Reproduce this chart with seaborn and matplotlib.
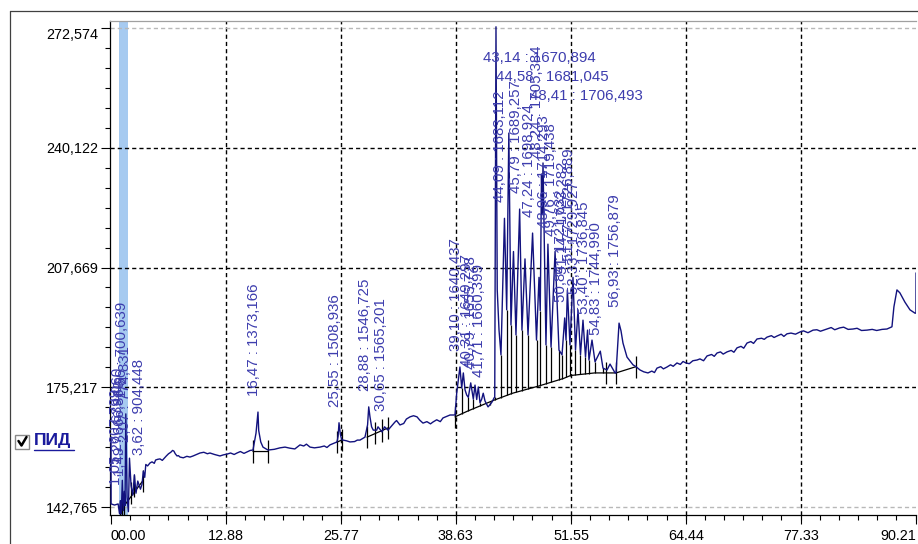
import matplotlib
matplotlib.use("Agg")
import numpy as np
import pandas as pd
import matplotlib.pyplot as plt
from matplotlib.ticker import AutoMinorLocator, FixedLocator
from matplotlib.patches import Rectangle
from matplotlib.lines import Line2D
import seaborn as sns

# Detector signal between the identified peaks: time (min) and response
trace_t = [0.00, 0.01, 0.40, 0.80, 0.95, 1.15, 1.38, 1.57, 1.80, 1.95, 2.25, 2.45,
           2.62, 2.80, 3.00, 3.30, 3.48, 3.78, 3.90, 4.37, 5.00, 5.49, 6.20, 6.70,
           7.05, 7.40, 7.73, 8.85, 9.50, 9.97, 11.09, 11.60, 12.21, 13.00, 14.12,
           15.24, 15.91, 16.25, 16.55, 16.78, 17.03, 17.59, 18.94, 20.06, 21.18,
           22.30, 23.42, 24.54, 25.33, 25.45, 25.70, 25.85, 26.00, 26.78, 27.90,
           28.46, 28.75, 29.02, 29.20, 29.39, 29.77, 29.92, 30.37, 31.04, 31.82,
           32.38, 33.51, 34.29, 34.96, 36.08, 37.20, 37.99, 38.55, 38.74, 39.30,
           39.48, 39.67, 39.86, 40.04, 40.60, 40.98, 41.16, 41.35, 41.54, 41.91,
           42.25, 42.47, 42.69, 42.92, 43.00, 43.28, 43.48, 43.70, 44.34, 44.82,
           45.10, 45.38, 46.05, 46.39, 46.73, 47.68, 47.96, 48.10, 48.32, 48.74,
           49.31, 50.20, 50.54, 50.99, 51.43, 52.05, 52.61, 52.89, 53.17, 53.56,
           53.90, 54.24, 55.13, 55.47, 55.58, 55.92, 56.48, 56.59, 57.15, 57.37,
           57.82, 58.49, 58.83, 59.28, 60.17, 61.18, 62.30, 63.42, 64.43, 65.67,
           66.79, 67.91, 69.03, 70.15, 71.27, 72.39, 73.51, 74.63, 75.75, 77.21,
           78.67, 80.23, 81.65, 83.14, 84.71, 86.95, 87.51, 87.73, 88.07, 88.40,
           88.96, 89.53, 90.09, 90.20, 90.21]
trace_v = [161.2, 143.6, 143.3, 143.6, 141.0, 140.9, 141.8, 143.2, 145.5, 141.5, 148.5, 146.0,
           151.5, 146.5, 149.8, 147.6, 149.0, 150.8, 154.3, 154.7, 155.5, 155.8, 156.6, 157.6,
           157.9, 156.6, 156.3, 156.3, 156.9, 157.4, 157.4, 157.0, 156.6, 157.1, 157.4,
           157.7, 158.2, 162.8, 163.5, 160.4, 159.0, 158.2, 158.8, 158.7, 159.6,
           159.0, 159.0, 159.6, 160.4, 162.0, 162.5, 161.0, 160.9, 160.4, 160.9,
           161.7, 165.0, 167.2, 164.5, 163.6, 163.6, 164.5, 163.1, 163.6, 165.8,
           165.0, 167.2, 167.2, 165.5, 165.8, 166.9, 167.7, 167.7, 173.7, 175.0,
           179.1, 174.5, 173.1, 172.5, 172.0, 171.9, 175.3, 171.0, 172.0, 171.5,
           169.9, 170.5, 171.2, 172.3, 172.6, 201.6, 190.7, 184.0, 196.2, 192.1,
           212.0, 189.4, 190.7, 210.0, 189.4, 188.0, 205.0, 196.0, 222.0, 186.7,
           186.1, 185.3, 184.0, 188.0, 186.7, 185.3, 184.0, 193.4, 183.4, 182.6,
           188.0, 182.1, 180.4, 180.0, 179.9, 181.5, 179.1, 179.1, 190.5, 187.2,
           183.4, 181.3, 180.8, 179.9, 179.1, 180.4, 180.7, 181.8, 181.8, 182.6,
           183.7, 184.5, 184.8, 185.9, 187.2, 188.3, 188.8, 189.1, 189.7, 190.2,
           190.7, 191.0, 191.3, 191.0, 190.7, 191.0, 191.6, 197.0, 201.6, 200.8,
           198.3, 196.2, 195.3, 195.3, 206.2]

# Small detector ripple along the baseline
ripple_t = [4.10, 4.60, 4.85, 5.25, 5.75, 6.45, 6.90, 7.20, 7.55, 8.10, 8.50, 9.20,
            10.40, 10.80, 12.60, 13.40, 13.80, 14.50, 14.90, 15.60,
            18.30, 19.50, 20.60, 21.60, 21.90, 22.80, 23.90, 24.20, 26.40, 27.30,
            27.60, 31.40, 32.00, 32.80, 33.10, 33.90, 34.60, 35.40, 35.80, 36.50,
            36.90, 37.60,
            59.70, 60.60, 60.90, 61.60, 61.90, 62.70, 63.00, 63.80, 64.10, 64.80,
            65.20, 66.00, 66.40, 67.30, 67.60, 68.30, 68.60, 69.50, 69.80, 70.60,
            70.90, 71.70, 72.00, 72.90, 73.20, 74.00, 74.30, 75.10, 75.40, 76.20,
            76.70, 77.60, 78.10, 79.10, 79.50, 80.70, 81.10, 82.10, 82.60, 83.60,
            84.10, 85.30, 85.80, 86.40]
ripple_v = [153.9, 155.0, 154.6, 155.7, 155.4, 157.2, 158.1, 157.2, 156.7, 156.1, 156.5, 156.6,
            157.6, 157.2, 156.9, 157.4, 157.0, 157.8, 157.3, 158.1,
            158.4, 159.0, 158.5, 159.3, 159.8, 158.8, 159.3, 158.9, 160.7, 160.5,
            160.9, 164.6, 166.2, 165.4, 166.6, 167.5, 166.3, 165.9, 165.3, 166.4,
            165.9, 167.3,
            179.4, 179.6, 179.2, 180.8, 180.2, 181.3, 180.9, 181.4, 182.2, 181.6,
            182.4, 182.9, 182.4, 184.1, 183.6, 184.8, 184.2, 185.2, 184.7, 186.3,
            185.8, 187.6, 187.1, 188.5, 188.2, 189.2, 188.7, 189.6, 189.0, 189.9,
            189.6, 190.5, 190.0, 190.8, 190.4, 191.4, 190.8, 191.5, 190.9, 191.2,
            190.6, 190.9, 190.6, 190.9]

# Identified peaks: retention time, apex height, retention index
peak_rt = [1.05, 1.27, 1.49, 1.66, 2.07, 3.62, 16.47, 25.55, 28.88, 30.65,
           39.10, 40.31, 40.79, 41.71, 43.14, 44.09, 44.58, 45.79, 47.24, 48.24,
           48.41, 48.96, 49.76, 50.84, 51.14, 51.77, 52.33, 53.40, 54.83, 56.93]
peak_top = [144.5, 150.0, 147.0, 168.0, 156.0, 152.5, 168.5, 165.6, 169.9, 164.5,
            180.7, 176.4, 175.8, 173.6, 272.9, 221.0, 244.1, 223.5, 217.0, 233.0,
            236.0, 214.0, 212.0, 194.0, 201.6, 205.0, 196.2, 190.7, 185.0, 192.6]
peak_ri = ["607,739", "639,060", "666,860", "700,639", "774,831", "904,448",
           "1373,166", "1508,936", "1546,725", "1565,201",
           "1640,437", "1649,297", "1655,728", "1660,399", "1670,894", "1683,112",
           "1681,045", "1689,257", "1698,924", "1705,384", "1706,493", "1714,293",
           "1719,438", "1721,632", "1723,282", "1726,889", "1729,927", "1736,845",
           "1744,990", "1756,879"]
flat_label_rt = [43.14, 44.58, 48.41]

# Integration results: drop lines, baselines and boundary marks
drop_t = [39.30, 40.04, 40.60, 41.35, 42.47, 43.00, 43.70, 44.34, 44.82, 45.38,
          46.05, 46.73, 47.68, 48.10, 48.74, 49.31, 50.20, 50.54, 50.99, 51.43,
          52.05, 52.61, 53.17, 53.56, 54.24, 55.13]
base_main_t = [38.55, 40.00, 42.90, 45.00, 48.00, 50.70, 51.50, 54.20, 56.59, 58.83]
base_main_v = [167.2, 168.8, 171.7, 173.6, 175.6, 177.6, 178.4, 179.1, 179.1, 180.8]
base_seg_t = [0.98, 3.55, np.nan, 15.91, 17.59, np.nan, 25.28, 25.85, np.nan, 28.69, 31.04]
base_seg_v = [141.5, 149.8, np.nan, 157.8, 157.8, np.nan, 160.3, 160.9, np.nan, 161.7, 164.2]
mark_t = [0.98, 1.20, 1.45, 2.20, 2.55, 3.55, 15.91, 17.59, 25.28, 25.85,
          28.69, 29.58, 30.37, 31.04, 38.55, 55.47, 56.59, 58.83]
mark_v = [141.5, 141.8, 143.5, 146.5, 148.5, 149.8, 157.8, 157.8, 160.3, 160.9,
          161.7, 162.8, 163.5, 164.2, 167.2, 179.1, 179.1, 180.8]

x_ticks = [0.0, 12.88, 25.77, 38.63, 51.55, 64.44, 77.33, 90.21]
x_tick_labels = ["00.00", "12.88", "25.77", "38.63", "51.55", "64.44", "77.33", "90.21"]
y_ticks = [142.765, 175.217, 207.669, 240.122, 272.574]
y_tick_labels = ["142,765", "175,217", "207,669", "240,122", "272,574"]

# layout
W, H = 918, 544
XMIN, XMAX = -0.112, 90.25
YMIN, YMAX = 140.60, 274.47
SEL_BAND = (0.90, 1.90)
FLAT_LABEL_Y = [264.45, 259.3, 254.15]
TRACE = "#12127e"
LABEL = "#3d3dae"
DASH = (3, 2.2)

sns.set_theme(style="ticks")
plt.rcParams["font.family"] = ["Liberation Sans", "DejaVu Sans"]

fig = plt.figure(figsize=(W / 100, H / 100), dpi=100)
fig.patch.set_facecolor("white")
ax = fig.add_axes([110 / W, 1 - 515 / H, (916.4 - 110) / W, (515 - 21) / H])
ax.set_facecolor("white")

# selection band
ax.axvspan(*SEL_BAND, color="#a6caf0", lw=0, zorder=0)

# grid
for t in x_ticks[1:-1]:
    ax.axvline(t, color="black", lw=1.0, dashes=DASH, zorder=1)
for v in y_ticks[1:-1]:
    ax.axhline(v, color="black", lw=1.0, dashes=DASH, zorder=1)
for v in (y_ticks[0], y_ticks[-1]):
    ax.axhline(v, color="#b8b8b8", lw=1.0, dashes=DASH, zorder=1)

# chromatogram
sig = pd.DataFrame({"t": trace_t + ripple_t + peak_rt,
                    "v": trace_v + ripple_v + peak_top}).sort_values("t")
sns.lineplot(data=sig, x="t", y="v", ax=ax, estimator=None, sort=False,
             color=TRACE, lw=1.0, zorder=4)

# integration marks
drop_top = np.interp(drop_t, sig["t"], sig["v"])
drop_bot = np.interp(drop_t, base_main_t, base_main_v)
ax.vlines(drop_t, drop_bot, drop_top, color="black", lw=0.9, zorder=3)
ax.plot(base_main_t, base_main_v, color="black", lw=0.9, zorder=3)
ax.plot(base_seg_t, base_seg_v, color="black", lw=0.9, zorder=3)
mv = np.array(mark_v)
ax.vlines(mark_t, mv - 3.0, mv + 3.0, color="black", lw=0.9, zorder=3)

# peak labels
flat_i = 0
for rt, top, ri in zip(peak_rt, peak_top, peak_ri):
    txt = f"{rt:.2f}".replace(".", ",") + " : " + ri
    if rt in flat_label_rt:
        ax.text(rt - 1.46, FLAT_LABEL_Y[flat_i], txt, ha="left", va="center",
                color=LABEL, fontsize=10.8, zorder=5)
        flat_i += 1
    else:
        ax.text(rt, top + 4.3, txt, rotation=90, rotation_mode="anchor",
                ha="left", va="baseline", color=LABEL, fontsize=10.8, zorder=5)

# axes
ax.set_xlim(XMIN, XMAX)
ax.set_ylim(YMIN, YMAX)
ax.xaxis.set_major_locator(FixedLocator(x_ticks))
ax.set_xticklabels(x_tick_labels)
ax.yaxis.set_major_locator(FixedLocator(y_ticks))
ax.set_yticklabels(y_tick_labels)
ax.xaxis.set_minor_locator(AutoMinorLocator(6))
ax.yaxis.set_minor_locator(AutoMinorLocator(6))
ax.tick_params(which="both", direction="out", bottom=True, left=True, top=False,
               right=False, colors="black", width=0.8)
ax.tick_params(which="major", length=6.8, labelsize=10.4)
ax.tick_params(which="minor", length=3.6)
ax.tick_params(axis="x", pad=3.0)
ax.tick_params(axis="y", pad=2.0)
xl = ax.get_xticklabels()
xl[0].set_ha("left")
xl[-1].set_ha("right")
ax.get_yticklabels()[-1].set_va("top")
ax.set_xlabel("")
ax.set_ylabel("")
for side in ("left", "bottom"):
    ax.spines[side].set_color("black")
    ax.spines[side].set_linewidth(0.9)
ax.spines["top"].set_color("#a0a0a0")
ax.spines["top"].set_linewidth(0.9)
ax.spines["right"].set_visible(False)

# panel frame
fig.add_artist(Line2D([9.5 / W, 9.5 / W], [0, 1 - 10.5 / H], transform=fig.transFigure,
                      color="#404040", lw=0.9))
fig.add_artist(Line2D([9.5 / W, 1], [1 - 10.5 / H, 1 - 10.5 / H], transform=fig.transFigure,
                      color="#404040", lw=0.9))

# detector checkbox
fig.add_artist(Rectangle((15 / W, 1 - 449 / H), 14 / W, 14 / H, transform=fig.transFigure,
                         facecolor="white", edgecolor="#8a8a8a", lw=1.0))
fig.add_artist(Line2D([18.5 / W, 21.5 / W, 26.5 / W], [1 - 441 / H, 1 - 445.5 / H, 1 - 437 / H],
                      transform=fig.transFigure, color="black", lw=1.8))
fig.text(34 / W, 1 - 441 / H, "ПИД", ha="left", va="center", fontsize=12.5,
         fontweight="bold", color="#1a1a9c")
fig.add_artist(Line2D([34 / W, 74 / W], [1 - 450 / H, 1 - 450 / H],
                      transform=fig.transFigure, color="#1a1a9c", lw=1.0))

fig.savefig("out.png", dpi=100, facecolor="white")
